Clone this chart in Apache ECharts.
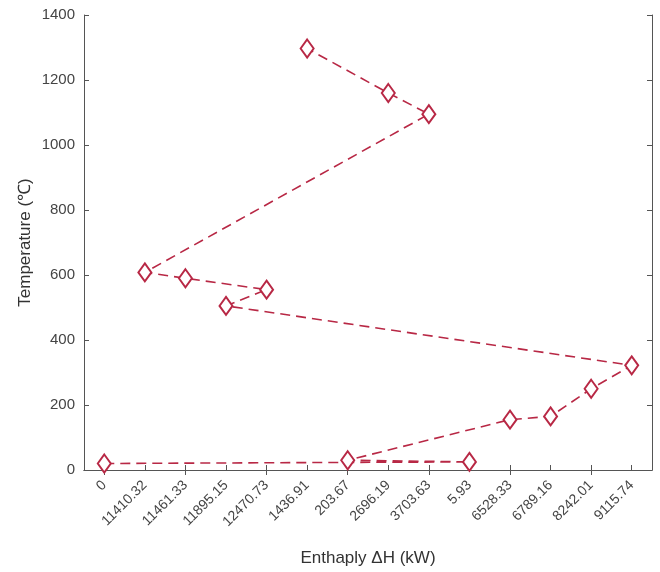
<!DOCTYPE html>
<html>
<head>
<meta charset="utf-8">
<script src="https://cdn.jsdelivr.net/npm/echarts@6/dist/echarts.min.js"></script>
<style>
  html, body { margin: 0; padding: 0; background: #fff; }
  #chart { width: 660px; height: 572px; }
</style>
</head>
<body>
<div id="chart"></div>
<script>
// x categories (sorted as text, like the original)
const categories = ['0', '11410.32', '11461.33', '11895.15', '12470.73', '1436.91', '203.67',
  '2696.19', '3703.63', '5.93', '6528.33', '6789.16', '8242.01', '9115.74']
// order the points are joined in
const pathEnthalpy = ['0', '5.93', '203.67', '6528.33', '6789.16', '8242.01', '9115.74',
  '11895.15', '12470.73', '11461.33', '11410.32', '3703.63', '2696.19', '1436.91']
const pathTemp = [20, 25, 30, 155, 165, 250, 322, 505, 555, 590, 608, 1095, 1160, 1297]
const yTicks = [0, 200, 400, 600, 800, 1000, 1200, 1400]

const lineColor = '#b82845'
const axisColor = '#555'
const font = 'Liberation Sans, Arial, sans-serif'

let myChart = echarts.init(document.getElementById('chart'))

let tickStyle = { show: true, inside: true, length: 5, lineStyle: { color: axisColor } }

myChart.setOption({
  animation: false,
  grid: {
    left: 84,
    right: 8,
    top: 15,
    bottom: 99
  },
  xAxis: [
    {
      type: 'category',
      data: categories,
      name: 'Enthaply ΔH (kW)',
      nameLocation: 'middle',
      nameGap: 80,
      nameMoveOverlap: false,
      nameTextStyle: { fontFamily: font, fontSize: 17, color: '#333' },
      axisLine: { lineStyle: { color: axisColor } },
      axisTick: Object.assign({ alignWithLabel: true }, tickStyle),
      axisLabel: {
        rotate: 45,
        interval: 0,
        margin: 13,
        fontFamily: font,
        fontSize: 14,
        color: '#444'
      },
      splitLine: { show: false }
    },
    {
      type: 'category',
      data: categories,
      position: 'top',
      axisLine: { lineStyle: { color: axisColor } },
      axisTick: Object.assign({ alignWithLabel: true }, tickStyle),
      axisLabel: { show: false },
      splitLine: { show: false }
    }
  ],
  yAxis: [
    {
      type: 'value',
      min: 0,
      max: 1400,
      interval: 200,
      name: 'Temperature (℃)',
      nameLocation: 'middle',
      nameGap: 50,
      nameMoveOverlap: false,
      nameTextStyle: { fontFamily: font, fontSize: 17, color: '#333' },
      axisLine: { show: true, lineStyle: { color: axisColor } },
      axisTick: tickStyle,
      axisLabel: {
        fontFamily: font,
        fontSize: 15,
        color: '#444',
        margin: 9,
        formatter: v => yTicks.includes(v) ? String(v) : ''
      },
      splitLine: { show: false }
    },
    {
      type: 'value',
      min: 0,
      max: 1400,
      interval: 200,
      position: 'right',
      axisLine: { show: true, lineStyle: { color: axisColor } },
      axisTick: tickStyle,
      axisLabel: { show: false },
      splitLine: { show: false }
    }
  ],
  series: [
    {
      type: 'line',
      data: pathEnthalpy.map((h, i) => [h, pathTemp[i]]),
      symbol: 'emptyDiamond',
      symbolSize: [13, 18],
      lineStyle: {
        color: lineColor,
        width: 1.6,
        type: [10, 6]
      },
      itemStyle: {
        color: lineColor,
        borderColor: lineColor,
        borderWidth: 1.6
      }
    }
  ]
})
</script>
</body>
</html>
